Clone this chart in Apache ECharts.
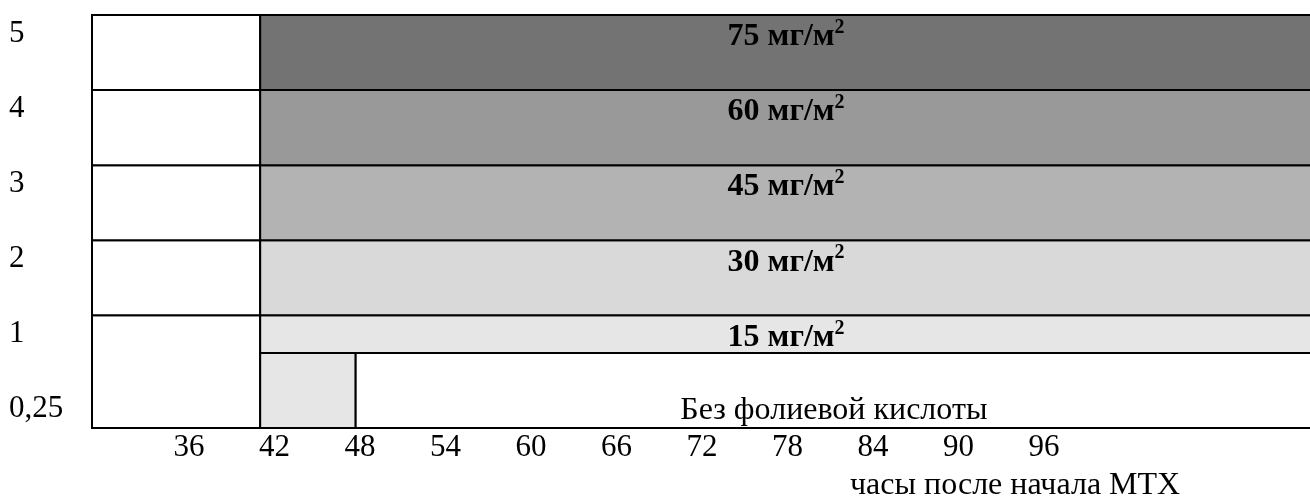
<!DOCTYPE html>
<html>
<head>
<meta charset="utf-8">
<script src="https://cdn.jsdelivr.net/npm/echarts@6/dist/echarts.min.js"></script>
<style>
html, body { margin: 0; padding: 0; background: #fff; }
#chart { width: 1310px; height: 498px; }
</style>
</head>
<body>
<div id="chart"></div>
<script>
// ---- data ----
const levelLabels = ['0,25', '1', '2', '3', '4', '5'];           // y row labels (bottom → top)
const hourTicks = [36, 42, 48, 54, 60, 66, 72, 78, 84, 90, 96];   // x tick labels, hours
const rescueStart = 41;      // hours where the dose bands begin
const noRescueStart = 47.7;  // hours where the "no folinic acid" cell begins
const doseLabels = ['15 мг/м', '30 мг/м', '45 мг/м', '60 мг/м', '75 мг/м'];
const doseRowLow = [1, 1.5, 2.5, 3.5, 4.5];   // row units
const doseRowHigh = [1.5, 2.5, 3.5, 4.5, 5.5];
const noRescueLabel = 'Без фолиевой кислоты';
const axisTitle = 'часы после начала МТХ';

// ---- layout / style ----
const xMin = 29.2, xMax = 114.8, yMin = 0, yMax = 5.5;
const doseColors = ['#e6e6e6', '#d9d9d9', '#b3b3b3', '#999999', '#737373'];
const FONT = '"Liberation Serif", "Times New Roman", serif';

// build cells: [x0, x1, y0, y1, kind, index]
const cells = [];
doseRowHigh.forEach((hi, i) => {
  const lo = i === 0 ? yMin : doseRowLow[i];
  cells.push([xMin, rescueStart, lo, hi, 'left', i]);
});
doseRowLow.forEach((lo, i) => {
  cells.push([rescueStart, xMax, lo, doseRowHigh[i], 'dose', i]);
});
cells.push([rescueStart, noRescueStart, yMin, doseRowLow[0], 'small', 0]);
cells.push([noRescueStart, xMax, yMin, doseRowLow[0], 'none', 0]);

const chart = echarts.init(document.getElementById('chart'), null, { renderer: 'canvas' });

function renderItem(params, api) {
  const item = cells[params.dataIndex];
  const kind = item[4], idx = item[5];
  const p0 = api.coord([api.value(0), api.value(3)]);
  const p1 = api.coord([api.value(1), api.value(2)]);
  let fill = '#ffffff';
  if (kind === 'dose') fill = doseColors[idx];
  if (kind === 'small') fill = doseColors[0];
  const children = [{
    type: 'rect',
    shape: { x: p0[0], y: p0[1], width: p1[0] - p0[0], height: p1[1] - p0[1] },
    style: { fill: fill, stroke: '#000', lineWidth: 2 }
  }];
  if (kind === 'dose') {
    children.push({
      type: 'text',
      x: (p0[0] + p1[0]) / 2,
      y: p0[1] + 22,
      z2: 10,
      style: {
        text: '{a|' + doseLabels[idx] + '}{b|2}',
        align: 'center',
        verticalAlign: 'middle',
        fill: '#000',
        rich: {
          a: { fontFamily: FONT, fontSize: 32, fontWeight: 'bold', lineHeight: 38, fill: '#000' },
          b: { fontFamily: FONT, fontSize: 20, fontWeight: 'bold', lineHeight: 20, verticalAlign: 'top', fill: '#000' }
        }
      }
    });
  }
  if (kind === 'none') {
    children.push({
      type: 'text',
      x: (p0[0] + p1[0]) / 2,
      y: p1[1] - 1,
      z2: 10,
      style: {
        text: noRescueLabel,
        align: 'center',
        verticalAlign: 'bottom',
        fill: '#000',
        font: '32px ' + FONT
      }
    });
  }
  return { type: 'group', children: children };
}

chart.setOption({
  animation: false,
  backgroundColor: '#ffffff',
  title: {
    text: axisTitle,
    left: 845,
    top: 465,
    textStyle: { fontFamily: FONT, fontSize: 32, fontWeight: 'normal', color: '#000' }
  },
  grid: { left: 92, right: -2, top: 15, bottom: 70, containLabel: false, outerBoundsMode: 'none' },
  xAxis: {
    type: 'value',
    min: xMin,
    max: xMax,
    splitLine: { show: false },
    axisLine: { show: false },
    axisTick: { show: false },
    axisLabel: {
      customValues: hourTicks,
      margin: 4,
      color: '#000',
      fontFamily: FONT,
      fontSize: 31,
      formatter: v => String(v)
    }
  },
  yAxis: {
    type: 'value',
    min: yMin,
    max: yMax,
    splitLine: { show: false },
    axisLine: { show: false },
    axisTick: { show: false },
    axisLabel: {
      customValues: levelLabels.map((_, i) => i + 0.25),
      formatter: v => levelLabels[Math.round(v - 0.25)],
      align: 'left',
      margin: 83,
      color: '#000',
      fontFamily: FONT,
      fontSize: 31
    }
  },
  series: [{
    type: 'custom',
    renderItem: renderItem,
    data: cells.map(c => c.slice(0, 4)),
    encode: { x: [0, 1], y: [2, 3] },
    clip: false,
    silent: true
  }]
});
</script>
</body>
</html>
